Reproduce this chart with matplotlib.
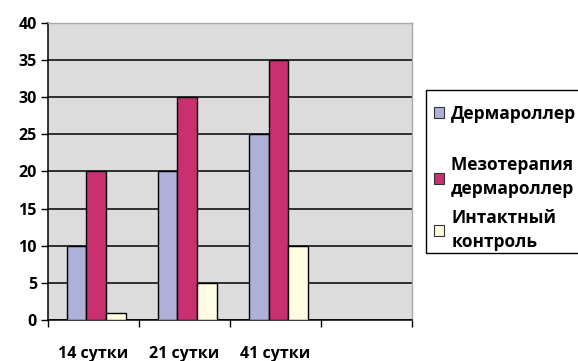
import numpy as np
import matplotlib.pyplot as plt
from matplotlib.patches import Patch, Rectangle

# данные по срокам наблюдения
days = ["14 сутки", "21 сутки", "41 сутки", ""]
dermaroller = [10, 20, 25, 0]
meso_derma = [20, 30, 35, 0]
control = [1, 5, 10, 0]

series_names = ["Дермароллер", "Мезотерапия +\nдермароллер", "Интактный\nконтроль"]
colors = ["#AEB0D8", "#C8306F", "#FFFCE2"]

plt.rcParams['font.family'] = ['Open Sans', 'DejaVu Sans']
plt.rcParams['font.weight'] = 'bold'

fig = plt.figure(figsize=(5.78, 3.61), dpi=100)
ax = fig.add_axes([0.083, 0.1136, 0.63, 0.8227])
ax.set_facecolor("#DCDCDC")

x = np.arange(len(days))
w = 0.215
n = 3  # последняя категория пустая
for i, (vals, c) in enumerate(zip([dermaroller, meso_derma, control], colors)):
    ax.bar(x[:n] + (i - 1) * w + 0.03, vals[:n], width=w, color=c,
           edgecolor="black", linewidth=1.0, zorder=3)

ax.set_ylim(0, 40)
ax.set_xlim(-0.5, 3.5)
ax.set_yticks(np.arange(0, 41, 5))
ax.yaxis.grid(True, color="black", linewidth=1.1, zorder=1)
ax.set_axisbelow(True)

ax.set_xticks(x)
ax.set_xticklabels(days, fontsize=11.5, fontweight="bold")
ax.tick_params(axis="x", which="major", length=0, pad=19)
ax.set_xticks(np.arange(-0.5, 4.0, 1.0), minor=True)
ax.tick_params(axis="x", which="minor", length=5, width=1, direction="out")
ax.tick_params(axis="y", length=5, width=1, direction="out", labelsize=11.5, pad=3)
for lab in ax.get_yticklabels():
    lab.set_fontweight("bold")

ax.spines["left"].set_color("black")
ax.spines["bottom"].set_color("black")
ax.spines["left"].set_linewidth(1.1)
ax.spines["bottom"].set_linewidth(1.1)
for s in ["top", "right"]:
    ax.spines[s].set_color("#A8A8A8")
    ax.spines[s].set_linewidth(1)

# рамка легенды (уходит за правый край)
fig.patches.append(Rectangle((0.737, 0.299), 0.3, 0.452, transform=fig.transFigure,
                             facecolor="white", edgecolor="black", linewidth=1.0,
                             zorder=0))

# легенда: пустая строка-разделитель после первой позиции
handles = [Patch(facecolor=c, edgecolor="#333333", linewidth=0.8) for c in colors]
spacer = Patch(facecolor="none", edgecolor="none")
leg = fig.legend([handles[0], spacer, handles[1], handles[2]],
                 [series_names[0], " ", series_names[1], series_names[2]],
                 loc="upper left",
                 bbox_to_anchor=(0.737, 0.732), borderaxespad=0,
                 frameon=False, handlelength=0.6,
                 handleheight=0.6, handletextpad=0.4, labelspacing=0.6,
                 borderpad=0.45, prop={"weight": "bold", "size": 12.5})
for t in leg.get_texts():
    t.set_linespacing(1.45)
leg.get_texts()[1].set_fontsize(3)

fig.savefig("out.png", dpi=100)
